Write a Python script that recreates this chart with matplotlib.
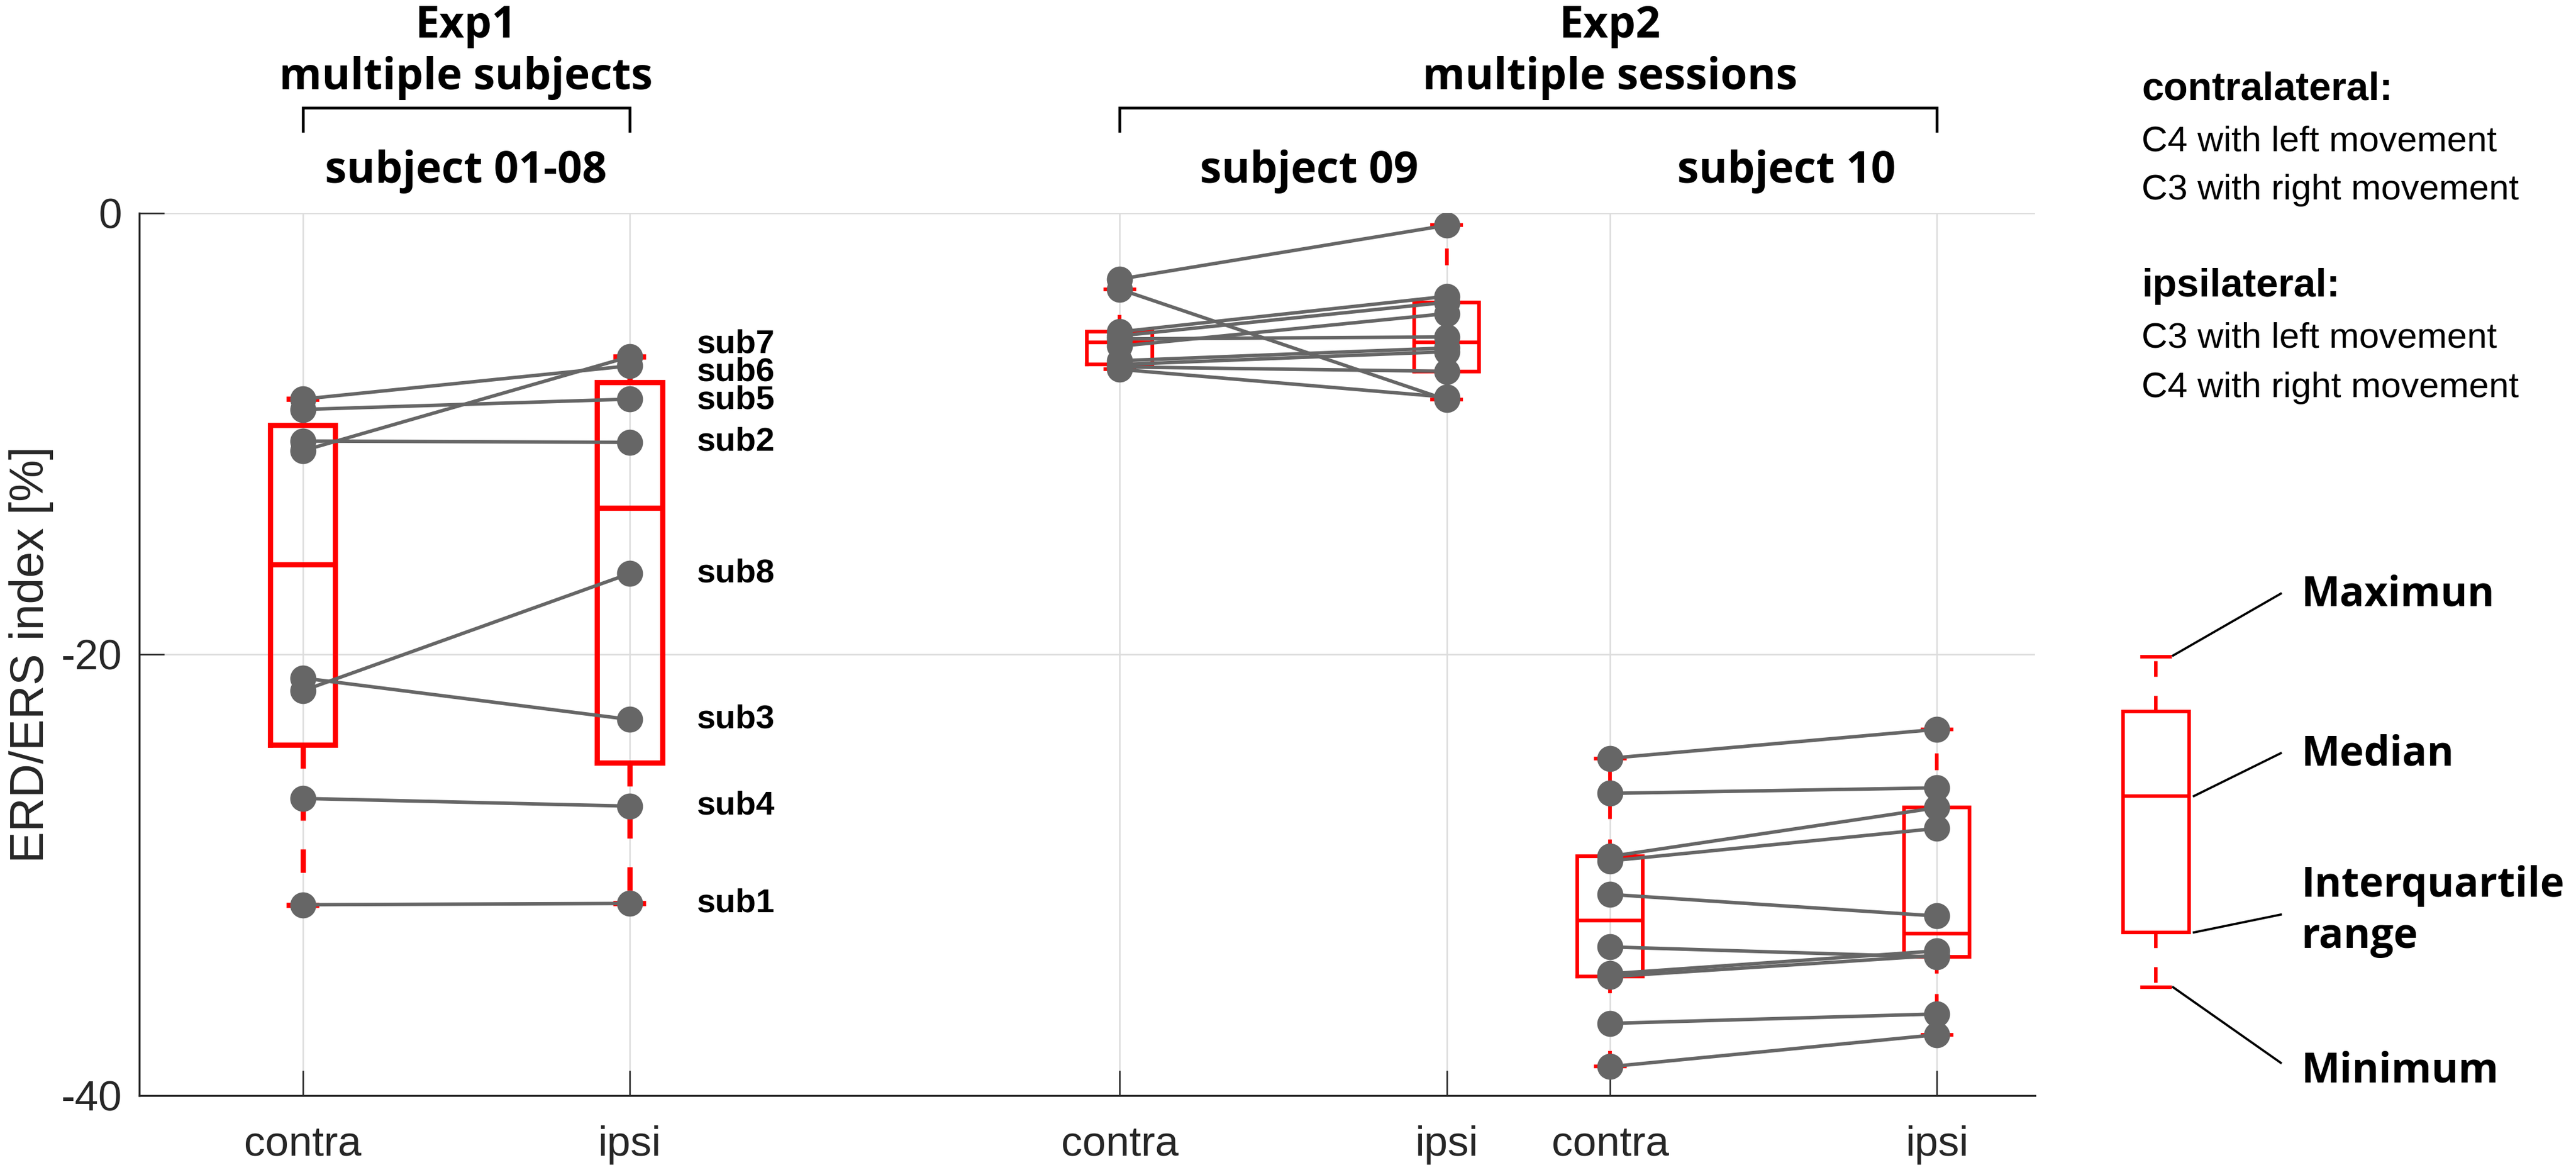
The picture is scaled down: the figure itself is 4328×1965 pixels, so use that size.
import numpy as np
import matplotlib
matplotlib.use('Agg')
import matplotlib.pyplot as plt
from matplotlib.transforms import Affine2D, blended_transform_factory
from matplotlib.lines import Line2D
from matplotlib import font_manager as fm

plt.rcParams['axes.unicode_minus'] = False
plt.rcParams['font.family'] = ['Liberation Sans', 'DejaVu Sans']

W, H, DPI = 4328, 1965, 300

# ---------------- data ----------------
group_positions = [1.0, 2.0, 3.5, 4.5, 5.0, 6.0]
tick_labels = ['contra', 'ipsi', 'contra', 'ipsi', 'contra', 'ipsi']
y_ticks = [-40, -20, 0]

exp1_subjects = ['sub1', 'sub2', 'sub3', 'sub4', 'sub5', 'sub6', 'sub7', 'sub8']
exp1_contra = [-31.35, -10.33, -21.07, -26.53, -8.90, -8.43, -10.77, -21.65]
exp1_ipsi = [-31.29, -10.39, -22.95, -26.88, -8.43, -6.92, -6.51, -16.34]
exp1_label_nudge = [0, 0, 0, 0, -0.05, -0.3, 0.55, 0]

sub09_contra = [-2.99, -3.45, -5.38, -5.56, -5.70, -6.03, -6.69, -6.86, -6.97, -7.08]
sub09_ipsi = [-0.55, -8.46, -3.77, -4.04, -5.61, -4.55, -6.11, -6.28, -7.17, -8.34]

sub10_contra = [-24.71, -26.30, -29.16, -29.36, -30.88, -33.26, -34.48, -34.61, -36.73, -38.69]
sub10_ipsi = [-23.40, -26.05, -26.95, -27.89, -31.86, -33.72, -33.44, -33.65, -36.30, -37.24]

# schematic box for the explanatory legend (arbitrary units)
legend_box = dict(whislo=0.0, q1=0.92, med=3.21, q3=4.63, whishi=5.55, fliers=[])
legend_names = ['Maximun', 'Median', 'Interquartile', 'range', 'Minimum']

RED = (1, 0, 0)
GRAY = '#666666'
AXC = '#262626'


def pick_bold_family(cands):
    for fam in cands:
        try:
            path = fm.findfont(fm.FontProperties(family=fam, weight='bold'),
                               fallback_to_default=False)
        except Exception:
            continue
        fp = fm.FontProperties(fname=path)
        name = fp.get_name().lower()
        if fam.lower() in name and 'bold' in path.lower():
            return fam
    return 'DejaVu Sans'


BOLD_FAM = pick_bold_family(['Noto Sans', 'Open Sans', 'Lato', 'Roboto', 'Inter'])


def matlab_box_stats(values):
    v = np.asarray(values, float)
    q1, med, q3 = np.percentile(v, [25, 50, 75], method='hazen')
    iqr = q3 - q1
    lo, hi = q1 - 1.5 * iqr, q3 + 1.5 * iqr
    inside = v[(v >= lo) & (v <= hi)]
    return dict(med=med, q1=q1, q3=q3, whislo=inside.min(), whishi=inside.max(),
                fliers=v[(v < lo) | (v > hi)])


def draw_boxes(ax, stats, positions, lw, width=0.2, capw=0.1):
    ax.bxp(stats, positions=positions, widths=width, capwidths=capw,
           boxprops=dict(color=RED, linewidth=lw, solid_joinstyle='miter'),
           medianprops=dict(color=RED, linewidth=lw, solid_capstyle='butt'),
           whiskerprops=dict(color=RED, linewidth=lw, linestyle=(0, (4.5, 5.5))),
           capprops=dict(color=RED, linewidth=lw, solid_capstyle='butt'),
           flierprops=dict(marker='+', markeredgecolor=RED, markersize=8,
                           linestyle='none'),
           manage_ticks=False, zorder=2)


def draw_pairs(ax, xc, xi, contra, ipsi):
    for c, i in zip(contra, ipsi):
        ax.plot([xc, xi], [c, i], color=GRAY, lw=1.4, marker='o', ms=9.5,
                mfc=GRAY, mec=GRAY, zorder=3)


fig = plt.figure(figsize=(W / DPI, H / DPI), dpi=DPI)
tpx = Affine2D().scale(1 / W, -1 / H).translate(0, 1) + fig.transFigure

ax = fig.add_axes([234 / W, 1 - 1840 / H, (3419 - 234) / W, (1840 - 358) / H])
ax.set_xlim(0.5, 6.3)
ax.set_ylim(-40, 0)

draw_boxes(ax, [matlab_box_stats(exp1_contra), matlab_box_stats(exp1_ipsi)],
           group_positions[0:2], lw=2.1)
draw_boxes(ax, [matlab_box_stats(sub09_contra), matlab_box_stats(sub09_ipsi),
                matlab_box_stats(sub10_contra), matlab_box_stats(sub10_ipsi)],
           group_positions[2:6], lw=1.5)

draw_pairs(ax, group_positions[0], group_positions[1], exp1_contra, exp1_ipsi)
draw_pairs(ax, group_positions[2], group_positions[3], sub09_contra, sub09_ipsi)
draw_pairs(ax, group_positions[4], group_positions[5], sub10_contra, sub10_ipsi)

for name, yv, dy in zip(exp1_subjects, exp1_ipsi, exp1_label_nudge):
    ax.text(group_positions[1] + 0.205, yv + dy, name, fontsize=13.5, fontweight='bold',
            ha='left', va='center', color='black', zorder=4)

ax.set_xticks(group_positions)
ax.set_xticklabels(tick_labels)
ax.set_yticks(y_ticks)
ax.set_yticklabels([str(t) for t in y_ticks])
ax.tick_params(direction='in', length=10, width=0.6, color=AXC, labelsize=17,
               labelcolor=AXC)
ax.tick_params(axis='x', pad=12)
ax.tick_params(axis='y', pad=7)
ax.grid(True, color='#dcdcdc', lw=0.6)
ax.set_axisbelow(True)
for s in ['top', 'right']:
    ax.spines[s].set_visible(False)
for s in ['left', 'bottom']:
    ax.spines[s].set_linewidth(0.8)
    ax.spines[s].set_color(AXC)
ax.set_ylabel('ERD/ERS index [%]', fontsize=19, color=AXC)
ax.yaxis.set_label_coords((90 - 234) / (3419 - 234), 0.5)

# ------------- header annotations -------------
bt = blended_transform_factory(ax.transData, tpx)
hdr = dict(family=BOLD_FAM, fontweight='bold', fontsize=17.5,
           ha='center', va='baseline', transform=bt, color='black', clip_on=False)
ax.text(1.5, 63, 'Exp1', **hdr)
ax.text(1.5, 150, 'multiple subjects', **hdr)
ax.text(1.5, 307, 'subject 01-08', **hdr)
ax.text(5.0, 63, 'Exp2', **hdr)
ax.text(5.0, 150, 'multiple sessions', **hdr)
ax.text(4.08, 307, 'subject 09', **hdr)
ax.text(5.54, 307, 'subject 10', **hdr)

for x0, x1 in [(group_positions[0], group_positions[1]),
               (group_positions[2], group_positions[5])]:
    ax.add_line(Line2D([x0, x0, x1, x1], [220, 181, 181, 220], transform=bt,
                       color='black', lw=1.1, clip_on=False,
                       solid_joinstyle='miter'))

# ------------- right-hand text block -------------
rt = dict(transform=tpx, ha='left', va='baseline', color='black')
fig.text(3598, 167, 'contralateral:', fontsize=16, fontweight='bold', **rt)
fig.text(3598, 253, 'C4 with left movement', fontsize=14.5, **rt)
fig.text(3598, 335, 'C3 with right movement', fontsize=14.5, **rt)
fig.text(3598, 498, 'ipsilateral:', fontsize=16, fontweight='bold', **rt)
fig.text(3598, 583, 'C3 with left movement', fontsize=14.5, **rt)
fig.text(3598, 667, 'C4 with right movement', fontsize=14.5, **rt)

# ------------- explanatory box legend -------------
lax = fig.add_axes([3522 / W, 1 - 1698 / H, 200 / W, 640 / H])
lax.set_xlim(-1, 1)
lax.set_ylim(-0.4, 6.0)
lax.axis('off')
draw_boxes(lax, [legend_box], [0], lw=1.4, width=1.11, capw=0.53)

for (xa, ya, xb, yb) in [(3651, 1101, 3832, 997), (3686, 1337, 3832, 1265),
                         (3686, 1566, 3832, 1536), (3651, 1658, 3832, 1785)]:
    fig.add_artist(Line2D([xa, xb], [ya, yb], transform=tpx, color='black', lw=0.9))

lt = dict(transform=tpx, ha='left', va='baseline', color='black',
          family=BOLD_FAM, fontweight='bold', fontsize=16.5)
for name, yb in zip(legend_names, [1018, 1286, 1506, 1592, 1818]):
    fig.text(3867, yb, name, **lt)

fig.savefig('out.png', dpi=DPI, facecolor='white')
